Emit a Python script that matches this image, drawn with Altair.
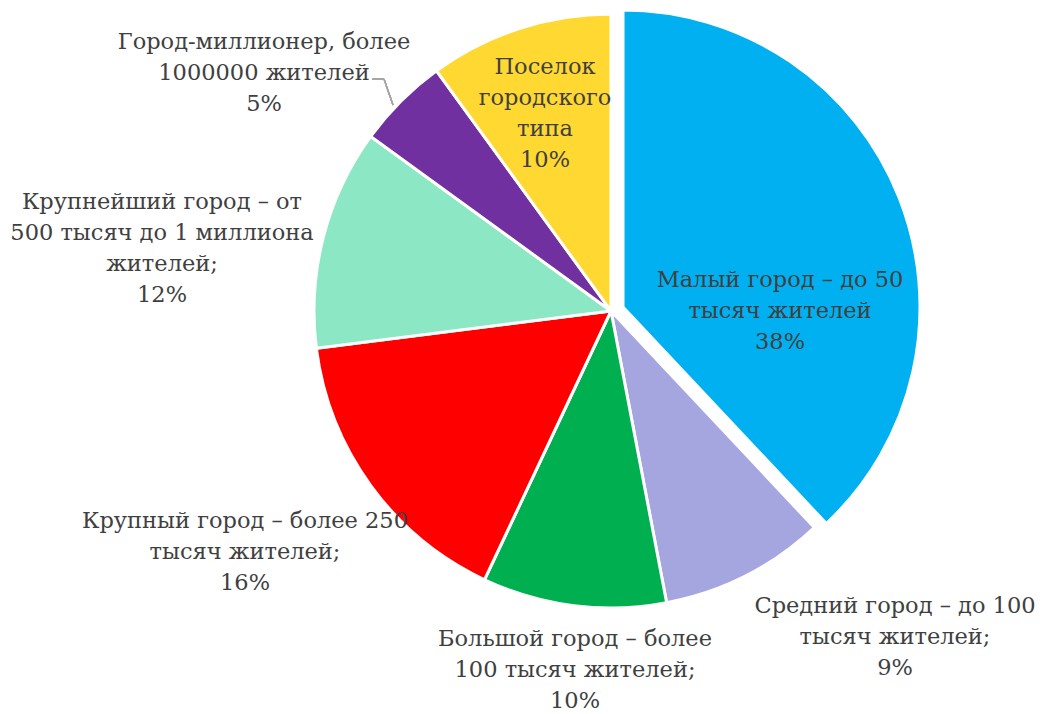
import math
import altair as alt
import pandas as pd

# ---- data ----
categories = [
    "Малый город",
    "Средний город",
    "Большой город",
    "Крупный город",
    "Крупнейший город",
    "Город-миллионер",
    "Поселок городского типа",
]
values = [38, 9, 10, 16, 12, 5, 10]
label_texts = [
    "Малый город – до 50\nтысяч жителей\n38%",
    "Средний город – до 100\nтысяч жителей;\n9%",
    "Большой город – более\n100 тысяч жителей;\n10%",
    "Крупный город – более 250\nтысяч жителей;\n16%",
    "Крупнейший город – от\n500 тысяч до 1 миллиона\nжителей;\n12%",
    "Город-миллионер, более\n1000000 жителей\n5%",
    "Поселок\nгородского\nтипа\n10%",
]

# ---- styling / layout ----
colors = ["#00B0F0", "#A5A5E0", "#00B050", "#FF0000", "#8CE8C4", "#7030A0", "#FFD832"]
W, H = 1027, 706
CX, CY = 603, 303
R = 297
EXPLODE_DX, EXPLODE_DY = 12, -4
label_pos = [  # centre of first line of each label
    (772, 272), (887, 598), (567, 631), (237, 513),
    (154, 194), (256, 34), (537, 59),
]
FONT = "DejaVu Serif"
FS = 22.5
TXT = "#404040"

df = pd.DataFrame({"cat": categories, "value": values, "order": list(range(len(values)))})
lab = pd.DataFrame({
    "cat": categories,
    "text": label_texts,
    "lx": [p[0] for p in label_pos],
    "ly": [p[1] for p in label_pos],
})

base = alt.Chart(df).transform_window(
    cum="sum(value)", sort=[alt.SortField("order")], frame=[None, 0]
).transform_calculate(start="datum.cum - datum.value")

theta = alt.Theta("start:Q", scale=alt.Scale(domain=[0, 100], range=[0, 2 * math.pi]))
color = alt.Color("cat:N", scale=alt.Scale(domain=categories, range=colors), legend=None)

pie = base.transform_filter("datum.order != 0").mark_arc(
    outerRadius=R, stroke="white", strokeWidth=3
).encode(theta=theta, theta2="cum:Q", color=color, x=alt.value(CX), y=alt.value(CY))

exploded = base.transform_filter("datum.order == 0").mark_arc(
    outerRadius=R, stroke="white", strokeWidth=3
).encode(theta=theta, theta2="cum:Q", color=color,
         x=alt.value(CX + EXPLODE_DX), y=alt.value(CY + EXPLODE_DY))

labels = alt.Chart(lab).mark_text(
    font=FONT, fontSize=FS, color=TXT, align="center", baseline="middle",
    lineBreak="\n", lineHeight=31,
).encode(
    x=alt.X("lx:Q", scale=None), y=alt.Y("ly:Q", scale=None), text="text:N"
)

leader1 = alt.Chart(df).mark_rule(color="#A6A6A6", strokeWidth=1.2).encode(
    x=alt.value(364), x2=alt.value(376), y=alt.value(71), y2=alt.value(71)
)
leader2 = alt.Chart(df).mark_rule(color="#A6A6A6", strokeWidth=1.2).encode(
    x=alt.value(376), x2=alt.value(385), y=alt.value(71), y2=alt.value(97)
)

chart = alt.layer(pie, exploded, leader1, leader2, labels).properties(
    width=W, height=H, padding=0, autosize="none"
).configure_view(stroke=None)

chart.save("out.html", embed_options={"renderer": "svg", "actions": False})
